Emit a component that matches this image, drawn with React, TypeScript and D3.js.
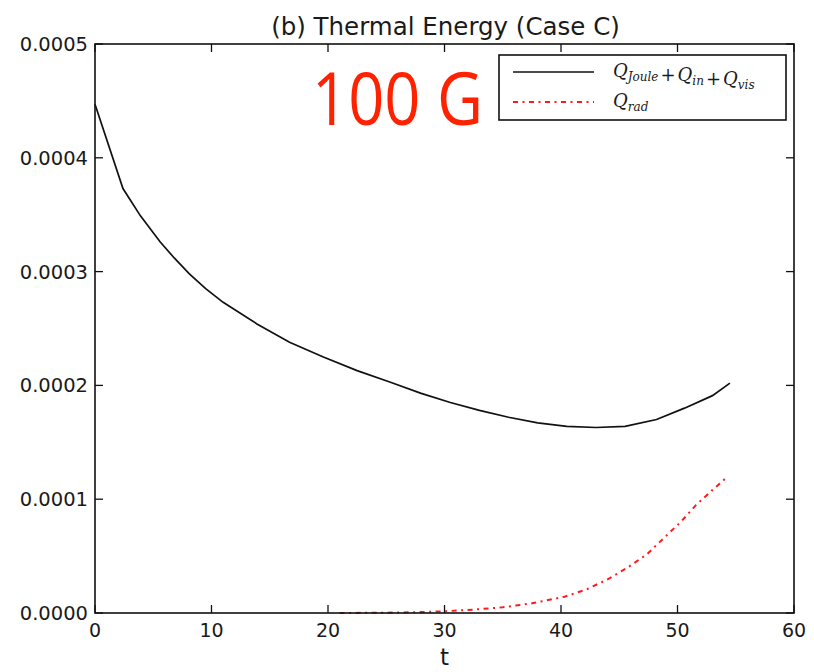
import * as d3 from "d3";
import { useEffect, useRef } from "react";

// time axis and series
const heatT = [0, 2.4, 3.9, 5.6, 6.8, 8.1, 9.5, 11.0, 13.9, 16.7, 19.6, 22.5, 25.3, 28.0, 30.5, 33.0, 35.5, 38.0, 40.5, 43.0, 45.5, 48.2, 50.6, 53.0, 54.5];
const heatQ = [0.000447, 0.000373, 0.000349, 0.000326, 0.000312, 0.000298, 0.000285, 0.000273, 0.000254, 0.000238, 0.000225, 0.000213, 0.000203, 0.000193, 0.000185, 0.000178, 0.000172, 0.000167, 0.000164, 0.000163, 0.000164, 0.00017, 0.00018, 0.000191, 0.000202];

const radT = [21, 25, 28, 30, 32.5, 35, 37.5, 40.3, 42.2, 44.0, 45.7, 47.4, 48.8, 50.3, 51.6, 53.0, 54.2];
const radQ = [0, 0.0000003, 0.0000008, 0.0000015, 0.000003, 0.000005, 0.0000085, 0.0000143, 0.0000208, 0.0000296, 0.0000398, 0.0000518, 0.0000656, 0.0000802, 0.000095, 0.000108, 0.000119];

const xTicks = [0, 10, 20, 30, 40, 50, 60];
const yTicks = [0, 0.0001, 0.0002, 0.0003, 0.0004, 0.0005];

const title = "(b) Thermal Energy (Case C)";
const xLabel = "t";
const stamp = "100 G";

const width = 814;
const height = 672;
const margin = { top: 44, right: 20, bottom: 59, left: 95 };

function App() {
  const svgRef = useRef<SVGSVGElement | null>(null);

  useEffect(() => {
    const svg = d3.select(svgRef.current);
    svg.selectAll("*").remove();

    const innerW = width - margin.left - margin.right;
    const innerH = height - margin.top - margin.bottom;

    const x = d3.scaleLinear().domain([0, 60]).range([0, innerW]);
    const y = d3.scaleLinear().domain([0, 0.0005]).range([innerH, 0]);

    const g = svg
      .append("g")
      .attr("transform", `translate(${margin.left}, ${margin.top})`);

    const line = d3
      .line<[number, number]>()
      .x((d) => x(d[0]))
      .y((d) => y(d[1]));

    const heat: [number, number][] = heatT.map((t, i) => [t, heatQ[i]]);
    const rad: [number, number][] = radT.map((t, i) => [t, radQ[i]]);

    g.append("path")
      .attr("d", line(heat))
      .attr("fill", "none")
      .attr("stroke", "#111")
      .attr("stroke-width", 1.7);

    g.append("path")
      .attr("d", line(rad))
      .attr("fill", "none")
      .attr("stroke", "#ff1a1a")
      .attr("stroke-width", 2)
      .attr("stroke-dasharray", "5,4.5,2,4.5");

    // frame
    g.append("rect")
      .attr("width", innerW)
      .attr("height", innerH)
      .attr("fill", "none")
      .attr("stroke", "#111")
      .attr("stroke-width", 1.6);

    const tickLen = 8;
    const tickG = g.append("g").attr("stroke", "#111").attr("stroke-width", 1.3);
    xTicks.forEach((t) => {
      tickG.append("line").attr("x1", x(t)).attr("x2", x(t)).attr("y1", innerH).attr("y2", innerH - tickLen);
      tickG.append("line").attr("x1", x(t)).attr("x2", x(t)).attr("y1", 0).attr("y2", tickLen);
    });
    yTicks.forEach((v) => {
      tickG.append("line").attr("x1", 0).attr("x2", tickLen).attr("y1", y(v)).attr("y2", y(v));
      tickG.append("line").attr("x1", innerW).attr("x2", innerW - tickLen).attr("y1", y(v)).attr("y2", y(v));
    });

    const labelFont = "'DejaVu Sans', sans-serif";

    g.selectAll(".xtl")
      .data(xTicks)
      .join("text")
      .attr("class", "xtl")
      .attr("x", (d) => x(d))
      .attr("y", innerH + 24)
      .attr("text-anchor", "middle")
      .style("font-family", labelFont)
      .style("font-size", "19px")
      .style("fill", "#1a1a1a")
      .text((d) => String(d));

    g.selectAll(".ytl")
      .data(yTicks)
      .join("text")
      .attr("class", "ytl")
      .attr("x", -7)
      .attr("y", (d) => y(d))
      .attr("dy", "0.36em")
      .attr("text-anchor", "end")
      .style("font-family", labelFont)
      .style("font-size", "19.5px")
      .style("fill", "#1a1a1a")
      .text((d) => d3.format(".4f")(d));

    g.append("text")
      .attr("x", innerW / 2)
      .attr("y", innerH + 52)
      .attr("text-anchor", "middle")
      .style("font-family", labelFont)
      .style("font-size", "23px")
      .style("fill", "#1a1a1a")
      .text(xLabel);

    g.append("text")
      .attr("x", innerW / 2 + 1)
      .attr("y", -9)
      .attr("text-anchor", "middle")
      .style("font-family", labelFont)
      .style("font-size", "24.5px")
      .style("fill", "#1a1a1a")
      .text(title);

    // legend
    const lg = g.append("g").attr("transform", `translate(${499 - margin.left}, ${55 - margin.top})`);
    lg.append("rect")
      .attr("width", 287)
      .attr("height", 65)
      .attr("fill", "#fff")
      .attr("stroke", "#111")
      .attr("stroke-width", 1.6);

    lg.append("line")
      .attr("x1", 14).attr("x2", 95)
      .attr("y1", 17).attr("y2", 17)
      .attr("stroke", "#111").attr("stroke-width", 1.7);
    lg.append("line")
      .attr("x1", 14).attr("x2", 95)
      .attr("y1", 47).attr("y2", 47)
      .attr("stroke", "#ff1a1a").attr("stroke-width", 2)
      .attr("stroke-dasharray", "5,4.5,2,4.5");

    const mathFont = "'DejaVu Serif', serif";
    const addQ = (sel: any, sub: string, first: boolean) => {
      if (!first) sel.append("tspan").attr("dx", 2).style("font-style", "normal").text("+");
      sel.append("tspan").attr("dx", first ? 0 : 2).text("Q");
      sel.append("tspan").attr("dy", 4).style("font-size", "12px").text(sub);
      sel.append("tspan").attr("dy", -4).text("");
    };
    const t1 = lg.append("text")
      .attr("x", 114).attr("y", 22)
      .style("font-family", mathFont)
      .style("font-style", "italic")
      .style("font-size", "18px")
      .style("fill", "#1a1a1a");
    addQ(t1, "Joule", true);
    addQ(t1, "in", false);
    addQ(t1, "vis", false);

    const t2 = lg.append("text")
      .attr("x", 114).attr("y", 52)
      .style("font-family", mathFont)
      .style("font-style", "italic")
      .style("font-size", "18px")
      .style("fill", "#1a1a1a");
    addQ(t2, "rad", true);

    // red annotation
    svg.append("text")
      .attr("x", 312)
      .attr("y", 125)
      .attr("textLength", 171)
      .attr("lengthAdjust", "spacingAndGlyphs")
      .style("font-family", "'Open Sans', sans-serif")
      .style("font-size", "73px")
      .style("fill", "#ff2200")
      .text(stamp);
  }, []);

  return (
    <svg
      ref={svgRef}
      width={width}
      height={height}
      style={{ position: "absolute", left: 0, top: 0, background: "#fff" }}
    ></svg>
  );
}

export default App;
